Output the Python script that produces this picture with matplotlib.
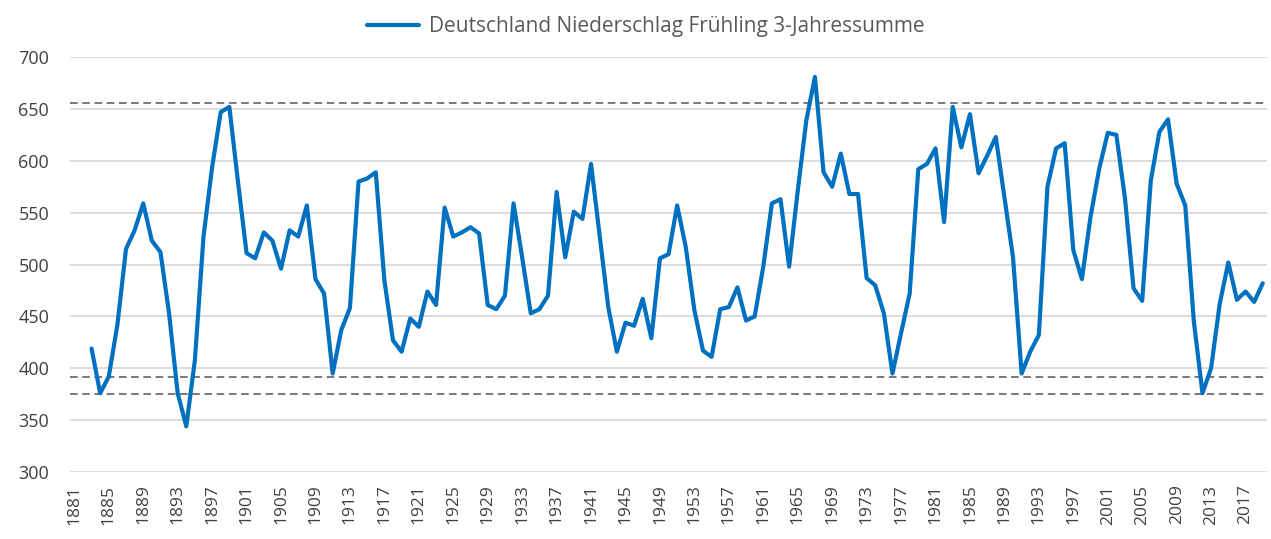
import matplotlib.pyplot as plt
import matplotlib.ticker as mticker

# ── Data (3-year sums, spring precipitation Germany, mm) ────────────────────
FIRST_YEAR = 1883
precip = [
    419, 376, 392, 442, 515, 533, 559,                      # 1883-1889
    523, 512, 453, 376, 344, 408, 527, 594, 647, 652,       # 1890-1899
    580, 511, 506, 531, 523, 496, 533, 527, 557, 486,       # 1900-1909
    472, 395, 437, 458, 580, 583, 589, 485, 427, 416,       # 1910-1919
    448, 440, 474, 461, 555, 527, 531, 536, 530, 461,       # 1920-1929
    457, 470, 559, 507, 453, 457, 470, 570, 507, 551,       # 1930-1939
    544, 597, 528, 459, 416, 444, 441, 467, 429, 506,       # 1940-1949
    510, 557, 517, 456, 417, 411, 457, 459, 478, 446,       # 1950-1959
    450, 498, 559, 563, 498, 571, 639, 681, 589, 575,       # 1960-1969
    607, 568, 568, 487, 480, 453, 395, 434, 472, 592,       # 1970-1979
    597, 612, 541, 652, 613, 645, 588, 605, 623, 565,       # 1980-1989
    507, 395, 416, 432, 575, 612, 617, 514, 486, 546,       # 1990-1999
    592, 627, 625, 564, 477, 465, 581, 628, 640, 578,       # 2000-2009
    557, 445, 376, 400, 462, 502, 466, 474, 464, 482,       # 2010-2019
]
years = list(range(FIRST_YEAR, FIRST_YEAR + len(precip)))

ref_lines = [656, 392, 375]
tick_years = list(range(1881, 2018, 4))
LABEL = "Deutschland Niederschlag Frühling 3-Jahressumme"

BLUE = "#0070C0"
GRID = "#D9D9D9"
TXT  = "#595959"

plt.rcParams["font.family"] = ["Open Sans", "DejaVu Sans"]

fig = plt.figure(figsize=(12.71, 5.39), dpi=100)
ax = fig.add_axes([0.0551, 0.1243, 0.9418, 0.7697])

ax.plot(years, precip, color=BLUE, linewidth=3.0, solid_joinstyle="round",
        solid_capstyle="round", label=LABEL, zorder=3)
for v in ref_lines:
    ax.axhline(v, color="#555555", linestyle=(0, (5, 3)), linewidth=1.1, zorder=2)

ax.set_xlim(1880.5, 2019.5)
ax.set_ylim(300, 700)
ax.yaxis.set_major_locator(mticker.MultipleLocator(50))
ax.set_xticks(tick_years)
ax.set_xticklabels([str(y) for y in tick_years], rotation=90)
ax.grid(axis="y", color=GRID, linewidth=1.3, zorder=0)
ax.set_axisbelow(True)
for s in ax.spines.values():
    s.set_visible(False)
ax.tick_params(axis="both", length=0, labelcolor="#404040")
ax.tick_params(axis="y", pad=15, labelsize=13)
ax.tick_params(axis="x", pad=9, labelsize=12.5)

fig.legend(loc="upper center", bbox_to_anchor=(0.508, 1.005), frameon=False,
           fontsize=15, handlelength=2.5, handletextpad=0.5, labelcolor=TXT)

fig.savefig("out.png", dpi=100)
